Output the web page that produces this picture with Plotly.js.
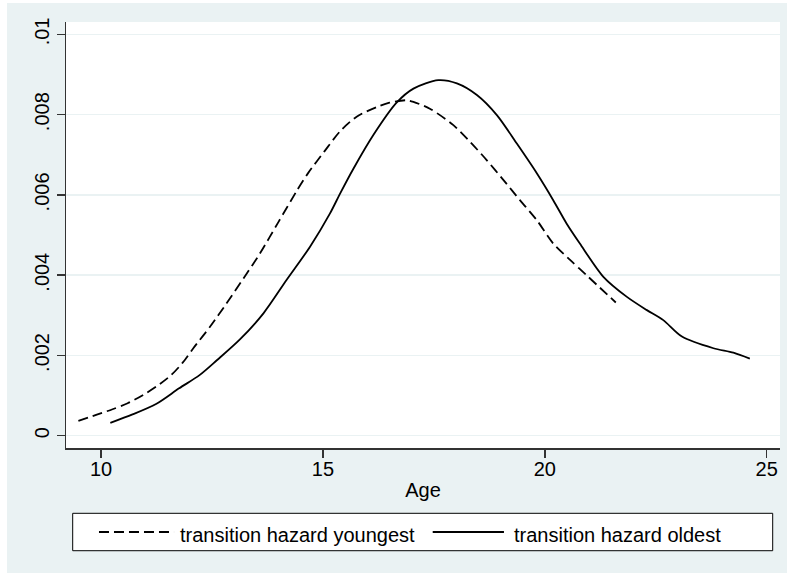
<!DOCTYPE html>
<html>
<head>
<meta charset="utf-8">
<script src="https://cdn.plot.ly/plotly-3.0.1.min.js"></script>
<style>
  html, body { margin: 0; padding: 0; background: #ffffff; width: 787px; height: 573px; overflow: hidden; }
  #chart { position: absolute; left: 7px; top: 3px; width: 780px; height: 570px; }
</style>
</head>
<body>
<div id="chart"></div>
<script>
// Age values and hazards
const ageYoungest = [9.49, 9.89, 10.26, 10.60, 10.94, 11.24, 11.58, 11.84, 12.08, 12.46, 12.83, 13.21, 13.58, 14.00, 14.41, 14.67, 15.03, 15.39, 15.76, 16.21, 16.50, 16.88, 17.04, 17.41, 17.94, 18.32, 18.69, 19.07, 19.44, 19.82, 20.19, 20.57, 20.94, 21.60];
const hazardYoungest = [0.00037, 0.00052, 0.00066, 0.00081, 0.00101, 0.00122, 0.00151, 0.00182, 0.00218, 0.00272, 0.00330, 0.00392, 0.00454, 0.00533, 0.00610, 0.00655, 0.00708, 0.00759, 0.00795, 0.00819, 0.00830, 0.00836, 0.00832, 0.00815, 0.00774, 0.00732, 0.00687, 0.00637, 0.00587, 0.00537, 0.00479, 0.00438, 0.00400, 0.00332];

const ageOldest = [10.21, 10.71, 11.24, 11.76, 12.22, 12.61, 13.13, 13.66, 14.18, 14.71, 15.16, 15.39, 15.69, 16.14, 16.66, 17.04, 17.60, 18.02, 18.47, 18.92, 19.37, 19.82, 20.19, 20.49, 20.79, 21.32, 21.85, 22.30, 22.67, 23.09, 23.80, 24.25, 24.62];
const hazardOldest = [0.00032, 0.00053, 0.00079, 0.00118, 0.00151, 0.00188, 0.00240, 0.00305, 0.00388, 0.00471, 0.00554, 0.00604, 0.00666, 0.00750, 0.00830, 0.00865, 0.00886, 0.00878, 0.00849, 0.00799, 0.00728, 0.00654, 0.00587, 0.00529, 0.00479, 0.00396, 0.00346, 0.00313, 0.00288, 0.00247, 0.00218, 0.00207, 0.00192];

const xTicks = [10, 15, 20, 25];
const yTicks = [0, 0.002, 0.004, 0.006, 0.008, 0.01];
const yTickLabels = ["0", ".002", ".004", ".006", ".008", ".01"];
const seriesNames = ["transition hazard youngest", "transition hazard oldest"];

const FONT = "Liberation Sans, Arial, sans-serif";
const BG = "#eaf2f3";

const traces = [
  { x: ageYoungest, y: hazardYoungest, type: "scatter", mode: "lines", name: seriesNames[0],
    line: { color: "#000000", width: 1.8, dash: "10px,5px", shape: "spline", smoothing: 0.8 }, showlegend: false, hoverinfo: "skip" },
  { x: ageOldest, y: hazardOldest, type: "scatter", mode: "lines", name: seriesNames[1],
    line: { color: "#000000", width: 1.8, shape: "spline", smoothing: 0.8 }, showlegend: false, hoverinfo: "skip" }
];

const legY = -0.1972;
const layout = {
  width: 780, height: 570,
  margin: { l: 59, r: 7, t: 19, b: 125 },
  paper_bgcolor: BG,
  plot_bgcolor: "#ffffff",
  font: { family: FONT, size: 20, color: "#000000" },
  xaxis: {
    range: [9.211, 25.30],
    tickvals: xTicks, ticktext: xTicks.map(String),
    ticks: "outside", ticklen: 8, tickwidth: 1.5, tickcolor: "#333333",
    ticklabelstandoff: -6,
    showline: true, linecolor: "#333333", linewidth: 1.5,
    showgrid: false, zeroline: false,
    tickfont: { family: FONT, size: 20, color: "#000000" },
    title: { text: "Age", font: { family: FONT, size: 20, color: "#000000" }, standoff: 4 }
  },
  yaxis: {
    range: [-0.000306, 0.01031],
    tickvals: yTicks, ticktext: yTickLabels,
    tickangle: -90,
    ticks: "outside", ticklen: 8, tickwidth: 1.5, tickcolor: "#333333",
    showline: true, linecolor: "#333333", linewidth: 1.5,
    showgrid: true, gridcolor: BG, gridwidth: 1.5, zeroline: false,
    tickfont: { family: FONT, size: 20, color: "#000000" }
  },
  shapes: [
    { type: "rect", xref: "paper", yref: "paper", x0: 0.00938, x1: 0.98978, y0: -0.2411, y1: -0.1533,
      line: { color: "#000000", width: 1 }, fillcolor: "#ffffff", layer: "above" },
    { type: "line", xref: "paper", yref: "paper", x0: 0.0462, x1: 0.1513, y0: legY, y1: legY,
      line: { color: "#000000", width: 1.8, dash: "10px,5px" } },
    { type: "line", xref: "paper", yref: "paper", x0: 0.5136, x1: 0.6134, y0: legY, y1: legY,
      line: { color: "#000000", width: 1.8 } }
  ],
  annotations: [
    { xref: "paper", yref: "paper", x: 0.1565, y: -0.2042, xanchor: "left", yanchor: "middle",
      text: seriesNames[0], showarrow: false, font: { family: FONT, size: 20, color: "#000000" } },
    { xref: "paper", yref: "paper", x: 0.6247, y: -0.2042, xanchor: "left", yanchor: "middle",
      text: seriesNames[1], showarrow: false, font: { family: FONT, size: 20, color: "#000000" } }
  ]
};

Plotly.newPlot("chart", traces, layout, { staticPlot: true, displayModeBar: false });
</script>
</body>
</html>
